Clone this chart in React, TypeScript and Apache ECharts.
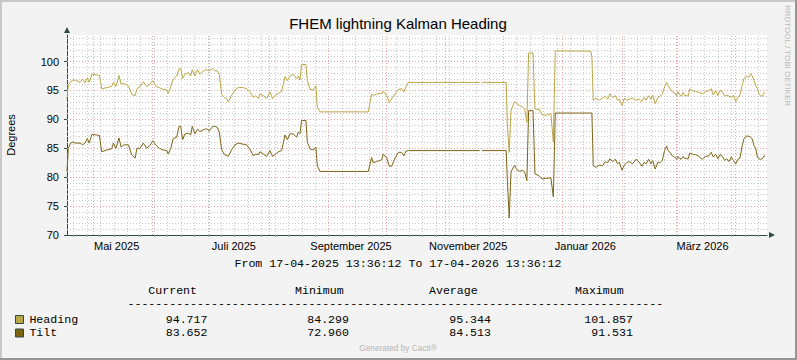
import React, { useEffect, useRef } from "react";
import * as echarts from "echarts";

// ---- data (x = days since 17-04-2025 13:36:12) ----
const spanDays = 365;
const days = [
  0, 0.7, 1.9, 3.0, 4.2, 5.0, 6.8, 8.2, 9.4, 10.6, 11.6, 13.0, 15.5, 16.9, 18.1, 20.7, 23.3, 24.2, 25.5, 27.1,
  28.2, 29.7, 32.0, 33.7, 35.5, 36.5, 38.1, 39.8, 41.5, 43.3, 44.7, 46.4, 48.1, 50.2, 52.0, 52.8, 54.1, 55.4, 57.2, 58.4,
  59.3, 60.3, 61.5, 63.3, 64.5, 65.3, 66.7, 68.0, 69.3, 71.1, 72.8, 74.2, 76.0, 77.2, 78.4, 79.4, 80.6, 81.9, 83.6, 84.1,
  85.9, 87.6, 89.3, 91.9, 93.7, 95.4, 97.2, 98.5, 99.8, 100.6, 102.4, 104.1, 105.8, 107.2, 108.4, 110.2, 111.9, 113.7, 114.9, 116.3,
  118.0, 119.7, 120.6, 121.5, 122.3, 124.6, 125.3, 126.7, 128.4, 129.8, 130.5, 131.9, 157.1, 158.8, 159.7, 161.4, 164.1, 164.9, 166.7, 168.1,
  169.3, 171.0, 172.8, 174.5, 175.7, 176.7, 178.0, 215.2, 215.8, 216.4, 229.0, 229.6, 230.6, 231.5, 233.4, 234.6, 236.0, 237.7, 238.6, 239.8,
  240.7, 243.0, 244.0, 246.3, 247.7, 249.7, 252.3, 253.6, 254.6, 273.2, 273.7, 274.4, 275.8, 277.5, 279.3, 280.7, 281.9, 283.1, 284.5, 285.9,
  287.1, 288.0, 289.4, 290.6, 291.8, 293.2, 294.9, 296.7, 298.4, 299.8, 301.0, 301.9, 303.3, 304.5, 305.4, 306.7, 308.1, 309.2, 310.4, 311.6,
  312.7, 313.4, 314.4, 315.6, 316.8, 317.9, 318.6, 319.6, 320.3, 321.3, 322.1, 323.1, 323.8, 324.8, 326.0, 327.8, 329.5, 331.2, 333.0, 334.7,
  335.9, 337.0, 338.2, 339.4, 340.5, 341.7, 342.9, 344.0, 345.2, 346.4, 347.5, 348.7, 349.8, 350.9, 352.1, 353.0, 354.4, 355.6, 356.5, 357.3,
  358.2, 359.1, 360.0, 360.8, 361.7, 362.6, 363.5, 364.0,
];
const heading = [
  93.6, 96.0, 96.5, 96.8, 96.8, 96.7, 96.4, 97.0, 96.3, 97.2, 96.4, 97.8, 97.7, 97.6, 95.3, 95.5, 95.7, 96.4, 95.7, 97.6,
  96.1, 96.2, 95.8, 94.4, 94.1, 95.3, 95.7, 96.5, 95.7, 96.1, 96.7, 95.7, 95.5, 95.2, 95.1, 94.5, 95.7, 97.0, 97.5, 98.7,
  98.8, 97.1, 97.8, 98.1, 97.5, 98.6, 97.5, 98.6, 97.8, 98.4, 98.6, 98.4, 98.8, 98.4, 98.4, 97.8, 94.4, 93.8, 93.5, 93.0,
  94.2, 95.1, 95.5, 95.5, 95.3, 94.8, 93.8, 94.1, 93.6, 94.4, 94.1, 93.6, 94.8, 93.6, 94.1, 94.5, 94.8, 97.4, 96.7, 97.5,
  97.8, 97.0, 97.5, 96.8, 99.5, 99.5, 96.7, 95.2, 95.1, 95.8, 92.1, 91.3, 91.3, 94.4, 94.1, 94.4, 94.5, 94.9, 94.1, 92.9,
  93.6, 94.4, 95.2, 95.3, 94.8, 95.6, 96.4, 96.4, null, 96.4, 96.4, 89.0, 84.3, 91.5, 93.1, 92.7, 92.4, 92.1, 91.8, 89.5,
  101.5, 101.5, 91.8, 91.7, 90.8, 90.7, 91.0, 86.1, 101.86, 101.8, 100.7, 93.3, 93.7, 93.3, 93.7, 94.0, 93.5, 94.4, 93.8, 94.1,
  93.3, 93.5, 92.4, 93.7, 93.3, 93.5, 93.7, 93.3, 93.5, 93.1, 93.8, 93.3, 94.1, 93.5, 94.2, 92.7, 93.8, 94.0, 94.4, 95.6,
  96.4, 95.9, 95.3, 94.8, 94.6, 94.0, 94.8, 94.2, 94.0, 94.7, 94.1, 94.2, 94.0, 95.3, 95.0, 94.8, 94.7, 94.4, 94.8, 95.0,
  95.3, 94.2, 95.0, 94.1, 95.0, 94.8, 94.0, 94.2, 94.0, 93.8, 94.2, 93.1, 93.8, 94.2, 95.9, 97.1, 97.5, 97.3, 97.9, 97.5,
  96.7, 95.9, 95.3, 94.4, 94.1, 94.0, 94.6, 94.717,
];
const tilt = [
  81.0, 85.0, 85.9, 86.1, 85.9, 85.9, 85.9, 85.6, 85.9, 86.7, 85.9, 87.4, 87.3, 87.2, 84.4, 84.7, 84.9, 85.9, 85.0, 86.8,
  85.2, 85.6, 85.6, 83.9, 83.3, 85.0, 85.0, 85.9, 85.0, 85.5, 86.3, 85.5, 85.0, 84.7, 84.6, 84.0, 85.0, 86.7, 86.9, 88.8,
  88.8, 86.5, 87.5, 87.6, 87.3, 88.8, 87.5, 88.3, 87.9, 88.2, 88.4, 88.0, 88.8, 88.8, 88.6, 87.8, 84.8, 84.0, 83.7, 83.6,
  84.8, 85.6, 85.9, 85.7, 85.6, 84.8, 83.7, 84.0, 83.9, 84.4, 84.0, 83.6, 84.6, 83.6, 83.9, 84.4, 84.6, 87.3, 86.5, 87.5,
  87.5, 86.9, 87.8, 87.5, 89.8, 89.8, 86.1, 84.9, 84.7, 85.2, 82.0, 81.0, 81.0, 83.4, 82.5, 82.7, 83.0, 84.0, 83.3, 81.9,
  81.9, 83.3, 84.3, 84.3, 83.7, 84.5, 84.6, 84.6, null, 84.6, 84.6, 79.5, 72.96, 80.9, 82.1, 81.3, 81.0, 81.2, 80.9, 79.4,
  91.53, 91.5, 80.6, 80.2, 79.7, 79.8, 79.9, 76.6, 91.1, 91.1, 91.1, 82.0, 81.7, 82.1, 82.0, 82.7, 82.5, 83.2, 82.7, 83.1,
  82.3, 82.6, 81.2, 82.1, 82.5, 82.7, 82.3, 83.1, 82.6, 81.9, 82.6, 82.3, 83.1, 82.3, 82.9, 81.4, 82.6, 82.5, 82.9, 84.6,
  85.4, 84.6, 84.3, 83.7, 83.5, 83.1, 83.6, 83.2, 83.1, 83.6, 83.2, 83.3, 83.1, 84.2, 84.0, 83.9, 83.6, 83.1, 83.6, 83.7,
  84.3, 83.5, 84.0, 83.2, 83.9, 83.6, 82.9, 83.2, 82.7, 83.5, 82.9, 82.3, 83.1, 83.3, 85.5, 86.7, 87.1, 87.1, 86.9, 86.6,
  85.5, 85.0, 83.5, 83.2, 83.1, 83.2, 83.7, 83.652,
];

// month starts (local midnight) and x-axis labels
const monthStartDays = [13.43, 44.43, 74.43, 105.43, 136.43, 166.43, 197.43, 227.43, 258.43, 289.43, 317.43, 348.43];
const firstMondayDay = 3.43;
const axisLabelDays = [25.9, 87.0, 148.1, 209.2, 270.3, 331.4];
const axisLabelTexts = ["Mai 2025", "Juli 2025", "September 2025", "November 2025", "Januar 2026", "März 2026"];
const yTicks = [70, 75, 80, 85, 90, 95, 100];

// legend / statistics
const seriesNames = ["Heading", "Tilt"];
const seriesColors = ["#bba646", "#7c6416"];
const statHeaders = ["Current", "Minimum", "Average", "Maximum"];
const headingStats = ["94.717", "84.299", "95.344", "101.857"];
const tiltStats = ["83.652", "72.960", "84.513", "91.531"];
const periodText = "From 17-04-2025 13:36:12 To 17-04-2026 13:36:12";
const titleText = "FHEM lightning Kalman Heading";

const SANS = "'Liberation Sans', Arial, sans-serif";
const MONO = "'Liberation Mono', 'DejaVu Sans Mono', monospace";
const AXIS = "#2c4d43";

export default function App() {
  const ref = useRef<HTMLDivElement>(null);
  useEffect(() => {
    document.body.style.margin = "0";
    const chart = echarts.init(ref.current!, null, { renderer: "svg" });

    const weekDays: number[] = [];
    for (let d = firstMondayDay; d < spanDays; d += 7) weekDays.push(d);
    const yMinor: number[] = [];
    const yMajor: number[] = [];
    for (let v = 71; v <= 104; v++) (v % 5 === 0 ? yMajor : yMinor).push(v);

    const minorStyle = { color: "#c8c8c8", type: [1, 2], width: 1 };
    const majorStyle = { color: "#eba2a2", type: [1, 2], width: 1 };
    const gridLines = [
      ...weekDays.map((d) => ({ xAxis: d, lineStyle: minorStyle })),
      ...yMinor.map((v) => ({ yAxis: v, lineStyle: minorStyle })),
      ...monthStartDays.map((d) => ({ xAxis: d, lineStyle: majorStyle })),
      ...yMajor.map((v) => ({ yAxis: v, lineStyle: majorStyle })),
    ];

    const statRows = [headingStats, tiltStats];
    const headerX = [148.3, 295, 429, 575];
    const valueX = [207.5, 349, 491, 633];
    const rowY = [319, 332.5];
    const boxY = [315.5, 329];

    const txt = (x: number, y: number, text: string, font: string, align: string, extra: any = {}) => ({
      type: "text",
      x,
      y,
      ...extra,
      style: { text, font, fill: "#000", align, verticalAlign: "middle", lineHeight: 10, ...(extra.style || {}) },
    });

    const graphic: any[] = [
      { type: "rect", shape: { x: 0, y: 0, width: 797, height: 2 }, style: { fill: "#c8c8c8" } },
      { type: "rect", shape: { x: 0, y: 0, width: 2, height: 360 }, style: { fill: "#c8c8c8" } },
      { type: "rect", shape: { x: 0, y: 358, width: 797, height: 2 }, style: { fill: "#969696" } },
      { type: "rect", shape: { x: 795, y: 0, width: 2, height: 360 }, style: { fill: "#969696" } },
      txt(398, 23, titleText, `15px ${SANS}`, "center", { style: { lineHeight: 15 } }),
      txt(10.7, 135, "Degrees", `11px ${SANS}`, "center", { rotation: Math.PI / 2 }),
      txt(787.8, 5, "RRDTOOL / TOBI OETIKER", `8px ${SANS}`, "left", { rotation: -Math.PI / 2, style: { fill: "#b8b8b8", lineHeight: 8 } }),
      txt(398, 263, periodText, `11.6px ${MONO}`, "center"),
      txt(127.5, 303.3, "-".repeat(77), `11.6px ${MONO}`, "left", { style: { lineHeight: 6 } }),
      txt(398, 348, "Generated by Cacti®", `8.3px ${SANS}`, "center", { style: { fill: "#b4b4b4", lineHeight: 8 } }),
    ];
    statHeaders.forEach((h, i) => {
      graphic.push(txt(headerX[i], 290, h, `11.6px ${MONO}`, "left", { style: { lineHeight: 9 } }));
    });
    seriesNames.forEach((n, r) => {
      graphic.push({ type: "rect", shape: { x: 15.5, y: boxY[r], width: 8, height: 8 }, style: { fill: seriesColors[r], stroke: "#2f4a42", lineWidth: 1 } });
      graphic.push(txt(29.4, rowY[r], n, `11.6px ${MONO}`, "left"));
      statRows[r].forEach((v, i) => {
        graphic.push(txt(valueX[i], rowY[r], v, `11.6px ${MONO}`, "right"));
      });
    });

    const option: any = {
      animation: false,
      backgroundColor: "#f3f3f3",
      grid: { left: 67, top: 35, width: 700, height: 200, show: true, backgroundColor: "#ffffff", borderWidth: 0 },
      xAxis: {
        type: "value",
        min: 0,
        max: spanDays,
        axisLine: {
          show: true,
          onZero: false,
          lineStyle: { color: AXIS, width: 1 },
          symbol: ["none", "triangle"],
          symbolSize: [6, 6],
          symbolOffset: [0, 5],
        },
        axisTick: { show: true, customValues: weekDays, length: 2, lineStyle: { color: "#a0a0a0" } },
        axisLabel: {
          customValues: axisLabelDays,
          formatter: (v: number) => {
            const i = axisLabelDays.findIndex((d) => Math.abs(d - v) < 0.01);
            return i >= 0 ? axisLabelTexts[i] : "";
          },
          fontFamily: SANS,
          fontSize: 11,
          color: "#000",
          margin: 5,
        },
        splitLine: { show: false },
      },
      yAxis: {
        type: "value",
        min: 70,
        max: 104.6,
        interval: 5,
        axisLine: {
          show: true,
          onZero: false,
          lineStyle: { color: AXIS, width: 1 },
          symbol: ["none", "triangle"],
          symbolSize: [6, 6],
          symbolOffset: [0, 5],
        },
        axisTick: { show: true, customValues: yTicks, length: 3, lineStyle: { color: AXIS } },
        axisLabel: {
          customValues: yTicks,
          formatter: (v: number) => String(Math.round(v)),
          fontFamily: SANS,
          fontSize: 11,
          color: "#000",
          margin: 8,
        },
        splitLine: { show: false },
      },
      graphic,
      series: [
        {
          name: "grid",
          type: "line",
          data: [],
          silent: true,
          z: 1,
          markLine: { silent: true, z: 1, symbol: ["none", "none"], label: { show: false }, animation: false, data: gridLines },
        },
        {
          name: seriesNames[0],
          type: "line",
          data: days.map((d, i) => [d, heading[i]]),
          showSymbol: false,
          symbol: "none",
          connectNulls: false,
          z: 3,
          lineStyle: { color: seriesColors[0], width: 1 },
        },
        {
          name: seriesNames[1],
          type: "line",
          data: days.map((d, i) => [d, tilt[i]]),
          showSymbol: false,
          symbol: "none",
          connectNulls: false,
          z: 4,
          lineStyle: { color: seriesColors[1], width: 1 },
        },
      ],
    };
    chart.setOption(option);
    return () => chart.dispose();
  }, []);
  return <div ref={ref} style={{ width: 797, height: 360, position: "absolute", left: 0, top: 0 }} />;
}
